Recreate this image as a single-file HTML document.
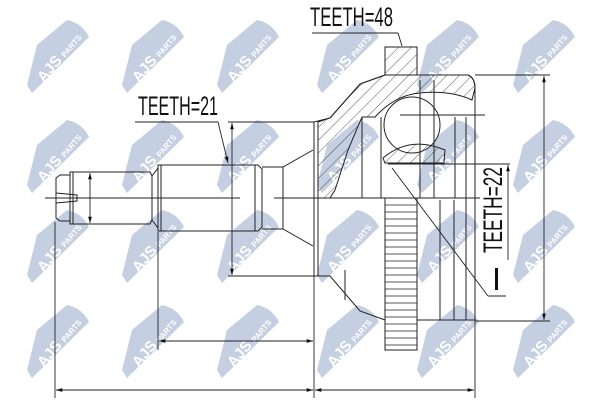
<!DOCTYPE html>
<html><head><meta charset="utf-8"><style>
html,body{margin:0;padding:0;background:#fff;}
svg{display:block}
.wm text{font-family:"Liberation Sans",sans-serif;font-weight:bold;fill:#fff;}
.t{font-family:"Liberation Sans",sans-serif;font-size:27px;fill:#111;}
</style></head><body>
<svg width="600" height="400" viewBox="0 0 600 400" xmlns="http://www.w3.org/2000/svg">
<defs>
<pattern id="h" width="9" height="9" patternUnits="userSpaceOnUse" patternTransform="rotate(45)">
<line x1="0" y1="0" x2="0" y2="9" stroke="#333" stroke-width="0.8"/></pattern>
<marker id="a" viewBox="0 0 10 10" refX="10" refY="5" markerWidth="7" markerHeight="7" orient="auto-start-reverse"><path d="M0,2 L10,5 L0,8z" fill="#111"/></marker>
</defs>
<g class="wm">
<g transform="translate(57,55)"><path d="M-30,30 L-20,-10 L10,-35 Q25,-32 32,-18 L-25,38 Z" fill="#c5cfe2"/><text transform="rotate(-50)" x="-30" y="8" font-size="15">AJS</text><text transform="rotate(-50)" x="3" y="8" font-size="8">PARTS</text></g>
<g transform="translate(152,55)"><path d="M-30,30 L-20,-10 L10,-35 Q25,-32 32,-18 L-25,38 Z" fill="#c5cfe2"/><text transform="rotate(-50)" x="-30" y="8" font-size="15">AJS</text><text transform="rotate(-50)" x="3" y="8" font-size="8">PARTS</text></g>
<g transform="translate(247,55)"><path d="M-30,30 L-20,-10 L10,-35 Q25,-32 32,-18 L-25,38 Z" fill="#c5cfe2"/><text transform="rotate(-50)" x="-30" y="8" font-size="15">AJS</text><text transform="rotate(-50)" x="3" y="8" font-size="8">PARTS</text></g>
<g transform="translate(347,55)"><path d="M-30,30 L-20,-10 L10,-35 Q25,-32 32,-18 L-25,38 Z" fill="#c5cfe2"/><text transform="rotate(-50)" x="-30" y="8" font-size="15">AJS</text><text transform="rotate(-50)" x="3" y="8" font-size="8">PARTS</text></g>
<g transform="translate(447,55)"><path d="M-30,30 L-20,-10 L10,-35 Q25,-32 32,-18 L-25,38 Z" fill="#c5cfe2"/><text transform="rotate(-50)" x="-30" y="8" font-size="15">AJS</text><text transform="rotate(-50)" x="3" y="8" font-size="8">PARTS</text></g>
<g transform="translate(543,55)"><path d="M-30,30 L-20,-10 L10,-35 Q25,-32 32,-18 L-25,38 Z" fill="#c5cfe2"/><text transform="rotate(-50)" x="-30" y="8" font-size="15">AJS</text><text transform="rotate(-50)" x="3" y="8" font-size="8">PARTS</text></g>

<g transform="translate(57,155)"><path d="M-30,30 L-20,-10 L10,-35 Q25,-32 32,-18 L-25,38 Z" fill="#c5cfe2"/><text transform="rotate(-50)" x="-30" y="8" font-size="15">AJS</text><text transform="rotate(-50)" x="3" y="8" font-size="8">PARTS</text></g>
<g transform="translate(152,155)"><path d="M-30,30 L-20,-10 L10,-35 Q25,-32 32,-18 L-25,38 Z" fill="#c5cfe2"/><text transform="rotate(-50)" x="-30" y="8" font-size="15">AJS</text><text transform="rotate(-50)" x="3" y="8" font-size="8">PARTS</text></g>
<g transform="translate(247,155)"><path d="M-30,30 L-20,-10 L10,-35 Q25,-32 32,-18 L-25,38 Z" fill="#c5cfe2"/><text transform="rotate(-50)" x="-30" y="8" font-size="15">AJS</text><text transform="rotate(-50)" x="3" y="8" font-size="8">PARTS</text></g>
<g transform="translate(347,155)"><path d="M-30,30 L-20,-10 L10,-35 Q25,-32 32,-18 L-25,38 Z" fill="#c5cfe2"/><text transform="rotate(-50)" x="-30" y="8" font-size="15">AJS</text><text transform="rotate(-50)" x="3" y="8" font-size="8">PARTS</text></g>
<g transform="translate(447,155)"><path d="M-30,30 L-20,-10 L10,-35 Q25,-32 32,-18 L-25,38 Z" fill="#c5cfe2"/><text transform="rotate(-50)" x="-30" y="8" font-size="15">AJS</text><text transform="rotate(-50)" x="3" y="8" font-size="8">PARTS</text></g>
<g transform="translate(543,155)"><path d="M-30,30 L-20,-10 L10,-35 Q25,-32 32,-18 L-25,38 Z" fill="#c5cfe2"/><text transform="rotate(-50)" x="-30" y="8" font-size="15">AJS</text><text transform="rotate(-50)" x="3" y="8" font-size="8">PARTS</text></g>

<g transform="translate(57,245)"><path d="M-30,30 L-20,-10 L10,-35 Q25,-32 32,-18 L-25,38 Z" fill="#c5cfe2"/><text transform="rotate(-50)" x="-30" y="8" font-size="15">AJS</text><text transform="rotate(-50)" x="3" y="8" font-size="8">PARTS</text></g>
<g transform="translate(152,245)"><path d="M-30,30 L-20,-10 L10,-35 Q25,-32 32,-18 L-25,38 Z" fill="#c5cfe2"/><text transform="rotate(-50)" x="-30" y="8" font-size="15">AJS</text><text transform="rotate(-50)" x="3" y="8" font-size="8">PARTS</text></g>
<g transform="translate(247,245)"><path d="M-30,30 L-20,-10 L10,-35 Q25,-32 32,-18 L-25,38 Z" fill="#c5cfe2"/><text transform="rotate(-50)" x="-30" y="8" font-size="15">AJS</text><text transform="rotate(-50)" x="3" y="8" font-size="8">PARTS</text></g>
<g transform="translate(347,245)"><path d="M-30,30 L-20,-10 L10,-35 Q25,-32 32,-18 L-25,38 Z" fill="#c5cfe2"/><text transform="rotate(-50)" x="-30" y="8" font-size="15">AJS</text><text transform="rotate(-50)" x="3" y="8" font-size="8">PARTS</text></g>
<g transform="translate(447,245)"><path d="M-30,30 L-20,-10 L10,-35 Q25,-32 32,-18 L-25,38 Z" fill="#c5cfe2"/><text transform="rotate(-50)" x="-30" y="8" font-size="15">AJS</text><text transform="rotate(-50)" x="3" y="8" font-size="8">PARTS</text></g>
<g transform="translate(543,245)"><path d="M-30,30 L-20,-10 L10,-35 Q25,-32 32,-18 L-25,38 Z" fill="#c5cfe2"/><text transform="rotate(-50)" x="-30" y="8" font-size="15">AJS</text><text transform="rotate(-50)" x="3" y="8" font-size="8">PARTS</text></g>

<g transform="translate(57,340)"><path d="M-30,30 L-20,-10 L10,-35 Q25,-32 32,-18 L-25,38 Z" fill="#c5cfe2"/><text transform="rotate(-50)" x="-30" y="8" font-size="15">AJS</text><text transform="rotate(-50)" x="3" y="8" font-size="8">PARTS</text></g>
<g transform="translate(152,340)"><path d="M-30,30 L-20,-10 L10,-35 Q25,-32 32,-18 L-25,38 Z" fill="#c5cfe2"/><text transform="rotate(-50)" x="-30" y="8" font-size="15">AJS</text><text transform="rotate(-50)" x="3" y="8" font-size="8">PARTS</text></g>
<g transform="translate(247,340)"><path d="M-30,30 L-20,-10 L10,-35 Q25,-32 32,-18 L-25,38 Z" fill="#c5cfe2"/><text transform="rotate(-50)" x="-30" y="8" font-size="15">AJS</text><text transform="rotate(-50)" x="3" y="8" font-size="8">PARTS</text></g>
<g transform="translate(347,340)"><path d="M-30,30 L-20,-10 L10,-35 Q25,-32 32,-18 L-25,38 Z" fill="#c5cfe2"/><text transform="rotate(-50)" x="-30" y="8" font-size="15">AJS</text><text transform="rotate(-50)" x="3" y="8" font-size="8">PARTS</text></g>
<g transform="translate(447,340)"><path d="M-30,30 L-20,-10 L10,-35 Q25,-32 32,-18 L-25,38 Z" fill="#c5cfe2"/><text transform="rotate(-50)" x="-30" y="8" font-size="15">AJS</text><text transform="rotate(-50)" x="3" y="8" font-size="8">PARTS</text></g>
<g transform="translate(543,340)"><path d="M-30,30 L-20,-10 L10,-35 Q25,-32 32,-18 L-25,38 Z" fill="#c5cfe2"/><text transform="rotate(-50)" x="-30" y="8" font-size="15">AJS</text><text transform="rotate(-50)" x="3" y="8" font-size="8">PARTS</text></g>
</g>

<g fill="none" stroke="#222" stroke-width="1">
<path d="M60,175 L56,178 L56,218 L60,221 L70,221 L70,175 Z"/>
<path d="M70,172 L150,172 L152,176 L152,220 L150,224 L70,224 Z"/>
<line x1="73" y1="172" x2="73" y2="224"/>
<path d="M56,193 L77,195 L77,201 L56,203"/>
<path d="M152,176 L158,168 L158,228 L152,220"/>
<path d="M158,165 L258,165 L262,169 L262,227 L258,231 L158,231 Z"/>
<line x1="161" y1="165" x2="161" y2="231"/>
<line x1="255" y1="165" x2="255" y2="231"/>
<path d="M262,167 L283,167 L313,150 M262,229 L283,229 L313,246"/>
<line x1="283" y1="167" x2="283" y2="229"/>
<path d="M314,122 L330,118 L360,84 L385,75 L468,75 Q475,78 475,88 L475,320 L385,320 L360,311 L330,276 L314,276 Z"/>
<line x1="318" y1="122" x2="318" y2="276"/>
<path d="M318,122 L330,118 L360,84 L385,75 L468,75 Q475,78 475,88 L472,100 Q450,90 420,93 Q395,95 375,117 L362,117 L348,150 L335,190 L330,198 L318,198 Z" fill="url(#h)"/>
<rect x="385" y="47" width="32" height="28" fill="url(#h)"/>
<circle cx="412" cy="125" r="28" fill="#fff"/>
<path d="M383,158 Q410,135 445,150 L444,163 L385,163 Z" fill="url(#h)"/>
<line x1="362" y1="117" x2="362" y2="198"/><line x1="381" y1="117" x2="381" y2="198"/>
<line x1="455" y1="117" x2="455" y2="198"/><line x1="466" y1="117" x2="466" y2="320"/>
<line x1="440" y1="200" x2="440" y2="320"/><line x1="454" y1="200" x2="454" y2="320"/>
<line x1="345" y1="270" x2="345" y2="300"/>
<line x1="400" y1="115" x2="485" y2="115"/>
<line x1="420" y1="80" x2="420" y2="198"/><line x1="434" y1="80" x2="434" y2="198"/>
<rect x="385" y="198" width="32" height="152" fill="#fff"/>
</g>
<g stroke="#222" stroke-width="0.8">
<line x1="385" y1="205" x2="417" y2="205"/><line x1="385" y1="212" x2="417" y2="212"/><line x1="385" y1="219" x2="417" y2="219"/><line x1="385" y1="226" x2="417" y2="226"/><line x1="385" y1="233" x2="417" y2="233"/><line x1="385" y1="240" x2="417" y2="240"/><line x1="385" y1="247" x2="417" y2="247"/><line x1="385" y1="254" x2="417" y2="254"/><line x1="385" y1="261" x2="417" y2="261"/><line x1="385" y1="268" x2="417" y2="268"/><line x1="385" y1="275" x2="417" y2="275"/><line x1="385" y1="282" x2="417" y2="282"/><line x1="385" y1="289" x2="417" y2="289"/><line x1="385" y1="296" x2="417" y2="296"/><line x1="385" y1="303" x2="417" y2="303"/><line x1="385" y1="310" x2="417" y2="310"/><line x1="385" y1="317" x2="417" y2="317"/><line x1="385" y1="324" x2="417" y2="324"/><line x1="385" y1="331" x2="417" y2="331"/><line x1="385" y1="338" x2="417" y2="338"/><line x1="385" y1="345" x2="417" y2="345"/>
</g>
<g stroke="#222" stroke-width="0.9" fill="none">
<line x1="45" y1="198" x2="240" y2="198"/><line x1="274" y1="198" x2="480" y2="198"/>
<line x1="90" y1="173" x2="90" y2="223" marker-start="url(#a)" marker-end="url(#a)"/>
<line x1="228" y1="122" x2="314" y2="122"/><line x1="228" y1="276" x2="314" y2="276"/>
<line x1="232" y1="123" x2="232" y2="275" marker-start="url(#a)" marker-end="url(#a)"/>
<line x1="135" y1="122" x2="218" y2="122"/><line x1="218" y1="122" x2="228" y2="163" marker-end="url(#a)"/>
<line x1="158" y1="232" x2="158" y2="350"/><line x1="314" y1="276" x2="314" y2="398"/>
<line x1="159" y1="341" x2="313" y2="341" marker-start="url(#a)" marker-end="url(#a)"/>
<line x1="55" y1="222" x2="55" y2="398"/><line x1="475" y1="320" x2="475" y2="398"/>
<line x1="56" y1="390" x2="313" y2="390" marker-start="url(#a)" marker-end="url(#a)"/>
<line x1="315" y1="390" x2="474" y2="390" marker-start="url(#a)" marker-end="url(#a)"/>
<line x1="475" y1="75" x2="550" y2="75"/><line x1="475" y1="321" x2="550" y2="321"/>
<line x1="544" y1="76" x2="544" y2="320" marker-start="url(#a)" marker-end="url(#a)"/>
<line x1="312" y1="33" x2="398" y2="33"/><line x1="398" y1="33" x2="402" y2="46"/>
<line x1="388" y1="164" x2="510" y2="164"/><line x1="508" y1="165" x2="508" y2="260" marker-start="url(#a)"/>
<line x1="392" y1="168" x2="488" y2="296"/><line x1="488" y1="296" x2="506" y2="296"/>
</g>
<text class="t" x="310" y="26" textLength="83" lengthAdjust="spacingAndGlyphs">TEETH=48</text>
<text class="t" x="138" y="115" textLength="80" lengthAdjust="spacingAndGlyphs">TEETH=21</text>
<text class="t" transform="translate(502,253) rotate(-90)" x="0" y="0" textLength="86" lengthAdjust="spacingAndGlyphs">TEETH=22</text>
<rect x="495" y="268" width="3" height="22" fill="#111"/>
</svg>
</body></html>
